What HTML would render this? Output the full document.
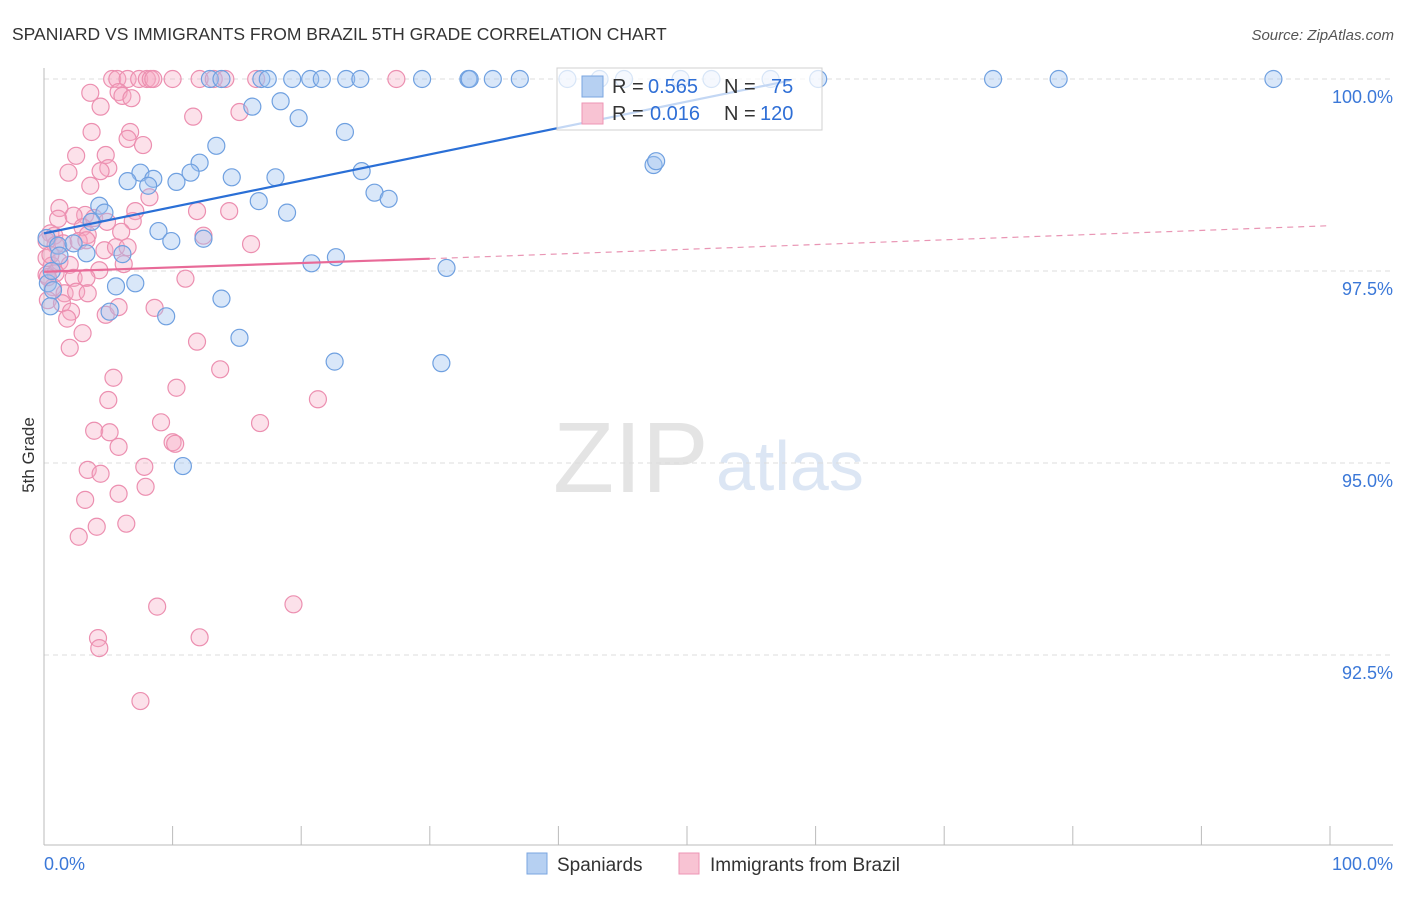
<!DOCTYPE html>
<html><head><meta charset="utf-8"><style>
body{margin:0;background:#fff;font-family:"Liberation Sans",sans-serif;}
svg text{font-family:"Liberation Sans",sans-serif;}
</style></head><body>
<svg id="chart" width="1406" height="892" xmlns="http://www.w3.org/2000/svg">
<text x="12" y="40" font-size="17.5" fill="#333">SPANIARD VS IMMIGRANTS FROM BRAZIL 5TH GRADE CORRELATION CHART</text>
<text x="1394" y="40" font-size="15" fill="#555" text-anchor="end" font-style="italic">Source: ZipAtlas.com</text>
<g>
<text x="553" y="492" font-size="100" fill="#e4e4e4" font-family="Liberation Serif, serif">ZIP</text>
<text x="716" y="490" font-size="70" fill="#dce6f4">atlas</text>
</g>
<g id="grid"></g>
<g id="axes"></g>
<g id="points"></g>
<g id="trends"></g>
<text transform="translate(34,455) rotate(-90)" font-size="17" fill="#333" text-anchor="middle">5th Grade</text>
<g>
<rect x="557" y="68" width="265" height="62" fill="rgba(255,255,255,0.72)" stroke="#d0d0d0"/>
<rect x="582" y="76" width="21" height="21" fill="#b6d0f2" stroke="#7aa6e0"/>
<rect x="582" y="103" width="21" height="21" fill="#f8c3d3" stroke="#ee96b4"/>
<text x="612" y="93" font-size="20" fill="#333">R =</text>
<text x="648" y="93" font-size="20" fill="#2f6fd6">0.565</text>
<text x="724" y="93" font-size="20" fill="#333">N =</text>
<text x="771" y="93" font-size="20" fill="#2f6fd6">75</text>
<text x="612" y="120" font-size="20" fill="#333">R =</text>
<text x="650" y="120" font-size="20" fill="#2f6fd6">0.016</text>
<text x="724" y="120" font-size="20" fill="#333">N =</text>
<text x="760" y="120" font-size="20" fill="#2f6fd6">120</text>
</g>
<g>
<rect x="527" y="853" width="20" height="21" fill="#b6d0f2" stroke="#7aa6e0"/>
<text x="557" y="871" font-size="19" fill="#333">Spaniards</text>
<rect x="679" y="853" width="20" height="21" fill="#f8c3d3" stroke="#ee96b4"/>
<text x="710" y="871" font-size="19" fill="#333">Immigrants from Brazil</text>
</g>
</svg>
<script>
const yTicks=[100,97.5,95,92.5];
const yTickLabels=["100.0%","97.5%","95.0%","92.5%"];
const xTickLabels=["0.0%","100.0%"];
const blueX=[12.9,13.8,16.9,17.4,19.3,20.7,21.6,23.5,24.6,29.4,33.0,33.1,34.9,37.0,40.7,43.2,45.1,49.5,51.9,56.5,60.2,73.8,78.9,95.6,16.2,18.4,19.8,23.4,13.4,12.1,11.4,14.6,18.0,7.5,6.5,8.5,10.3,8.1,24.7,25.7,26.8,16.7,18.9,4.3,4.7,3.7,8.9,9.9,12.4,47.4,47.6,0.2,1.1,2.3,3.3,6.1,20.8,22.7,31.3,0.3,0.7,5.6,7.1,0.5,5.1,9.5,13.8,15.2,22.6,30.9,10.8,0.6,1.2];
const blueY=[100,100,100,100,100,100,100,100,100,100,100,100,100,100,100,100,100,100,100,100,100,100,100,100,99.64,99.71,99.49,99.31,99.13,98.91,98.78,98.72,98.72,98.78,98.67,98.70,98.66,98.61,98.80,98.52,98.44,98.41,98.26,98.35,98.26,98.14,98.02,97.89,97.92,98.88,98.93,97.93,97.83,97.86,97.73,97.72,97.60,97.68,97.54,97.34,97.25,97.30,97.34,97.04,96.97,96.91,97.14,96.63,96.32,96.30,94.96,97.50,97.70];
const pinkX=[5.3,5.7,6.5,7.4,8.0,8.3,8.5,10.0,12.1,13.2,14.1,16.5,27.4,3.6,5.8,6.1,6.8,4.4,11.6,15.2,3.7,6.7,6.5,7.7,2.5,4.8,1.9,5.0,4.4,3.6,8.2,1.2,3.2,1.1,2.3,3.9,4.9,7.1,11.9,14.4,6.9,0.5,0.8,3.0,3.4,6.0,12.4,16.1,0.2,0.9,1.5,2.7,3.3,4.7,5.6,6.5,0.2,0.6,1.2,2.0,4.3,6.2,0.2,0.9,2.3,3.3,0.7,1.6,2.5,3.4,4.8,5.8,8.6,11.0,0.3,1.4,2.1,1.8,3.0,2.0,11.9,13.7,5.4,5.0,10.3,21.3,9.1,3.9,5.1,10.0,10.2,16.8,5.8,3.4,4.4,7.8,7.9,3.2,5.8,4.1,6.4,2.7,8.8,19.4,4.2,12.1,4.3,7.5,0.3,0.5];
const pinkY=[100,100,100,100,100,100,100,100,100,100,100,100,100,99.82,99.83,99.78,99.75,99.64,99.51,99.57,99.31,99.31,99.22,99.14,99.00,99.01,98.78,98.84,98.80,98.61,98.46,98.32,98.23,98.18,98.22,98.19,98.14,98.28,98.28,98.28,98.15,97.99,97.96,98.07,97.97,98.01,97.96,97.85,97.89,97.84,97.86,97.89,97.90,97.77,97.81,97.81,97.67,97.57,97.62,97.58,97.51,97.59,97.45,97.47,97.41,97.41,97.29,97.21,97.23,97.21,96.93,97.03,97.02,97.40,97.12,97.08,96.97,96.88,96.69,96.50,96.58,96.22,96.11,95.82,95.98,95.83,95.53,95.42,95.40,95.27,95.25,95.52,95.21,94.91,94.86,94.95,94.69,94.52,94.60,94.17,94.21,94.04,93.13,93.16,92.72,92.73,92.59,91.90,97.42,97.71];
const blueTrendX=[0,58];
const blueTrendY=[97.99,99.98];
const pinkTrendX=[0,30,100];
const pinkTrendY=[97.49,97.66,98.09];

const NS="http://www.w3.org/2000/svg";
const X0=44,X1=1330,YTOP=79,PXPER=76.8;
function sx(v){return X0+(X1-X0)*v/100;}
function sy(v){return YTOP+(100-v)*PXPER;}
function mk(tag,attrs,parent){const e=document.createElementNS(NS,tag);for(const k in attrs)e.setAttribute(k,attrs[k]);parent.appendChild(e);return e;}

const grid=document.getElementById('grid');
yTicks.forEach((t,i)=>{
  const l=mk('line',{x1:X0,x2:1393,y1:sy(t),y2:sy(t),stroke:'#dcdcdc','stroke-dasharray':'5,4'},grid);
  
  
  const tx=mk('text',{x:1393,y:sy(t)+24,'font-size':18,fill:'#3b78d8','text-anchor':'end'},grid);
  tx.textContent=yTickLabels[i];
  
  
});
const axes=document.getElementById('axes');
const ya=mk('line',{x1:X0,x2:X0,y1:68,y2:845,stroke:'#bbb'},axes);


const xa=mk('line',{x1:X0,x2:1393,y1:845,y2:845,stroke:'#bbb'},axes);


for(let i=0;i<=10;i++){
  const t=mk('line',{x1:sx(i*10),x2:sx(i*10),y1:826,y2:845,stroke:'#bbb'},axes);
  
  
}
const xl0=mk('text',{x:44,y:870,'font-size':18,fill:'#3b78d8'},axes);
xl0.textContent=xTickLabels[0];


const xl1=mk('text',{x:1393,y:870,'font-size':18,fill:'#3b78d8','text-anchor':'end'},axes);
xl1.textContent=xTickLabels[1];



const pts=document.getElementById('points');
pinkX.forEach((x,i)=>{
  const c=mk('circle',{cx:sx(x),cy:sy(pinkY[i]),r:8.5,fill:'rgba(245,170,196,0.35)',stroke:'#ec8fb0','stroke-width':1.2},pts);
  
  
});
blueX.forEach((x,i)=>{
  const c=mk('circle',{cx:sx(x),cy:sy(blueY[i]),r:8.5,fill:'rgba(160,195,240,0.4)',stroke:'#6fa0e0','stroke-width':1.2},pts);
  
  
});
const tr=document.getElementById('trends');
const bl=mk('line',{x1:sx(blueTrendX[0]),y1:sy(blueTrendY[0]),x2:sx(blueTrendX[1]),y2:sy(blueTrendY[1]),stroke:'#2a6fd6','stroke-width':2.2},tr);


const pl=mk('line',{x1:sx(pinkTrendX[0]),y1:sy(pinkTrendY[0]),x2:sx(pinkTrendX[1]),y2:sy(pinkTrendY[1]),stroke:'#e86a98','stroke-width':2.2},tr);


const pd=mk('line',{x1:sx(pinkTrendX[1]),y1:sy(pinkTrendY[1]),x2:sx(pinkTrendX[2]),y2:sy(pinkTrendY[2]),stroke:'#e995b4','stroke-width':1.2,'stroke-dasharray':'6,5'},tr);


</script>
</body></html>
